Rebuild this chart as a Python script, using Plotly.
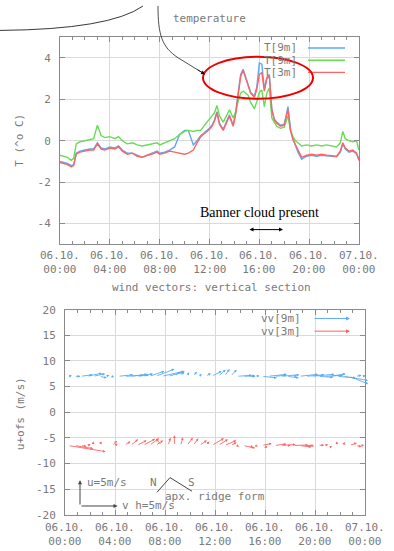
import plotly.graph_objects as go

# ---------------- data ----------------
hours = [0, 0.3, 0.6, 0.9, 1.1, 1.3, 1.6, 2.0, 2.4, 2.7, 3.0, 3.3, 3.6, 4.0, 4.4, 4.7, 5.0, 5.4, 5.8, 6.2,
         6.6, 7.0, 7.4, 7.8, 8.0, 8.4, 8.8, 9.2, 9.6, 10.0, 10.3, 10.7, 11.0, 11.3, 11.6, 11.9, 12.2, 12.4,
         12.6, 12.8, 13.1, 13.4, 13.6, 13.9, 14.1, 14.3, 14.5, 14.7, 14.9, 15.1, 15.3, 15.6, 15.8, 16.0,
         16.2, 16.4, 16.6, 16.8, 17.0, 17.2, 17.4, 17.7, 18.0, 18.3, 18.5, 18.7, 18.9, 19.1, 19.4, 19.8,
         20.2, 20.6, 21.0, 21.4, 21.8, 22.2, 22.5, 22.7, 22.9, 23.2, 23.5, 23.8, 24.0]

t3m = [-1.05, -1.1, -1.15, -1.25, -1.2, -0.65, -0.55, -0.5, -0.45, -0.45, -0.15, -0.4, -0.45, -0.35, -0.4,
       -0.3, -0.5, -0.65, -0.6, -0.75, -0.8, -0.7, -0.65, -0.55, -0.65, -0.6, -0.5, -0.55, -0.6, -0.65,
       -0.6, -0.45, -0.1, 0.2, 0.35, 0.5, 0.7, 0.95, 1.35, 0.8, 0.5, 0.9, 1.2, 0.7, 1.3, 2.2, 3.1, 3.4,
       3.0, 2.7, 2.3, 2.1, 2.5, 3.2, 3.3, 2.4, 3.0, 3.15, 1.5, 1.0, 0.85, 0.7, 0.75, 1.5, 0.5, 0.05,
       -0.2, -0.5, -0.8, -0.7, -0.65, -0.7, -0.65, -0.7, -0.72, -0.75, -0.5, -0.1, -0.35, -0.5, -0.45,
       -0.6, -0.95]

t9m_blue = [-1.0, -1.05, -1.1, -1.2, -1.15, -0.6, -0.5, -0.45, -0.4, -0.4, -0.1, -0.35, -0.4, -0.3,
            -0.35, -0.25, -0.45, -0.6, -0.6, -0.7, -0.8, -0.7, -0.6, -0.5, -0.6, -0.55, -0.45, -0.3, 0.3,
            0.5, 0.5, -0.2, 0.0, 0.25, 0.4, 0.55, 0.75, 1.0, 1.4, 0.85, 0.55, 0.95, 1.25, 0.75, 1.35, 2.3,
            3.2, 3.45, 3.05, 2.75, 2.35, 2.15, 2.6, 3.75, 3.7, 2.5, 3.05, 3.2, 1.55, 1.05, 0.9, 0.75, 0.8,
            1.65, 0.55, 0.1, -0.2, -0.55, -0.9, -0.75, -0.7, -0.75, -0.7, -0.72, -0.75, -0.78, -0.55,
            -0.15, -0.4, -0.55, -0.5, -0.62, -0.9]

t9m_green = [-0.7, -0.75, -0.8, -0.95, -0.85, -0.15, -0.05, 0.0, 0.05, 0.1, 0.75, 0.25, 0.15, 0.2, 0.1,
             0.2, 0.0, -0.15, -0.1, -0.2, -0.25, -0.2, -0.15, -0.1, -0.2, -0.1, 0.0, 0.1, 0.3, 0.45, 0.5,
             0.45, 0.5, 0.5, 0.75, 0.95, 1.2, 1.35, 1.7, 1.2, 0.9, 1.25, 1.5, 1.1, 1.4, 1.9, 2.3, 2.4, 2.3,
             2.2, 1.85, 1.55, 1.9, 2.35, 2.45, 1.65, 2.3, 2.55, 1.1, 0.9, 0.7, 0.6, 0.65, 1.2, 0.5, 0.2,
             0.0, -0.1, -0.25, -0.2, -0.25, -0.2, -0.25, -0.2, -0.25, -0.3, -0.1, 0.45, 0.1, 0.0, -0.05,
             0.0, -0.45]

temp_labels = ["T[9m]", "T[9m]", "T[3m]"]

# wind vectors (horizontal component vh, vertical component u), m/s
vec_hours = [0.25, 0.75, 1.25, 1.75, 2.25, 2.75, 3.25, 3.75, 4.25, 4.75, 5.25, 5.75, 6.25, 6.75, 7.25,
             7.75, 8.25, 8.75, 9.25, 9.75, 10.25, 10.75, 11.25, 11.75, 12.25, 12.75, 13.25, 13.75, 14.25,
             14.75, 15.25, 15.75, 16.25, 16.75, 17.25, 17.75, 18.25, 18.75, 19.25, 19.75, 20.25, 20.75,
             21.25, 21.75, 22.25, 22.75, 23.25, 23.75]
vh_9m = [0.5, 0.8, 1.6, 2.0, 1.6, 1.0, 0.5, 0.3, 2.0, 2.5, 2.2, 1.6, 1.3, 2.0, 2.5, 3.0, 2.0, 0.8, 0.5,
         0.3, 0.5, 0.3, 0.7, 1.3, 1.0, 0.7, 0.8, 2.0, 1.6, 0.8, 0.5, 2.0, 2.5, 1.6, 2.5, 1.6, 0.5, 2.5,
         2.5, 3.0, 2.0, 2.5, 2.0, 2.5, 3.3, 2.5, 0.8, 0.5]
u_9m = [0.1, 0.0, 0.3, 0.6, 0.5, -0.3, 0.2, -0.2, 0.3, 0.2, 0.4, 0.3, 0.5, 1.0, 1.4, 1.0, 0.8, 0.9, 1.0,
        0.8, 0.9, 0.5, 0.6, 1.0, 1.3, 1.4, 1.3, 0.2, 0.1, 0.0, 0.1, -0.3, 0.4, 0.2, 0.3, -0.3, 0.1, 0.4,
        0.3, 0.4, -0.2, 0.2, 0.5, -0.3, -0.8, -1.5, 0.2, 0.1]
vh_3m = [5.0, 2.5, 0.8, 0.5, 0.0, 0.3, 0.0, 0.7, -0.5, 0.8, 1.0, 1.3, 1.6, 1.3, 1.0, -0.8, 0.3, 0.0, 0.3,
         0.8, 0.7, 1.0, 0.5, 1.6, 1.3, 1.6, 0.8, 0.3, 1.6, 0.5, 0.3, 1.3, -0.5, 1.6, 2.0, 0.5, 2.0, 1.6,
         1.0, 0.3, 0.8, 0.5, 0.0, 0.0, 0.2, 1.0, 0.8, 0.3]
u_3m = [-1.2, -0.6, -0.2, 0.2, 0.8, 0.8, 0.1, 0.9, 0.3, 0.8, 1.2, 1.0, 1.3, 1.4, 1.0, 1.3, 1.5, 2.0, 1.6,
        1.5, 1.4, 1.0, 0.8, 1.4, 1.2, 1.0, 0.6, -0.2, -0.5, -0.4, -0.2, 0.4, -0.5, 0.3, 0.2, 0.0, 0.1,
        -0.3, 0.0, -0.2, 0.1, 0.2, -0.6, 0.8, 0.7, 0.5, -0.2, 0.1]
ofs_9m = 7.0
ofs_3m = -6.5
wind_labels = ["vv[9m]", "vv[3m]"]
scale_ms = 5.0          # reference arrow length, m/s
hours_per_ms = 0.6      # horizontal scale of the vectors

xtick_hours = [0, 4, 8, 12, 16, 20, 24]
xtick_dates = ["06.10.", "06.10.", "06.10.", "06.10.", "06.10.", "06.10.", "07.10."]
xtick_times = ["00:00", "04:00", "08:00", "12:00", "16:00", "20:00", "00:00"]
ytick_temp = [-4, -2, 0, 2, 4]
ytick_wind = [-20, -15, -10, -5, 0, 5, 10, 15, 20]

# ---------------- styling ----------------
W, H = 394, 551
def fx(x):
    return x / W
def fy(y):
    return 1 - y / H

MONO = "DejaVu Sans Mono"
FS = 11
TXT = "#7a7a7a"
FRAME = "#8a8a8a"
GRID = "#dadada"
BLUE = "#5aaaf5"
GREEN = "#66dd55"
RED = "#ff6464"

fig = go.Figure()
for ys, col in [(t9m_blue, BLUE), (t9m_green, GREEN), (t3m, RED)]:
    fig.add_trace(go.Scatter(x=hours, y=ys, mode="lines", line=dict(color=col, width=1.4),
                             xaxis="x", yaxis="y", showlegend=False, hoverinfo="skip"))

# vector base points (invisible trace to anchor second subplot)
fig.add_trace(go.Scatter(x=vec_hours, y=[ofs_9m] * len(vec_hours), mode="markers",
                         marker=dict(size=1, color=BLUE, opacity=0), xaxis="x2", yaxis="y2",
                         showlegend=False, hoverinfo="skip"))

annotations = []
shapes = []

def vec_arrows(vh, u, ofs, col):
    for t, a, b in zip(vec_hours, vh, u):
        annotations.append(dict(x=t + a * hours_per_ms, y=ofs + b, ax=t, ay=ofs, xref="x2", yref="y2",
                                axref="x2", ayref="y2", showarrow=True, arrowhead=2, arrowsize=0.6,
                                arrowwidth=0.9, arrowcolor=col, text="", standoff=0))

vec_arrows(vh_9m, u_9m, ofs_9m, BLUE)
vec_arrows(vh_3m, u_3m, ofs_3m, RED)

axis_common = dict(showline=True, linecolor=FRAME, linewidth=1, mirror="ticks", ticks="inside",
                   ticklen=5, tickcolor=FRAME, showgrid=True, gridcolor=GRID, gridwidth=1, zeroline=False,
                   tickfont=dict(family=MONO, size=FS, color=TXT))

x_common = dict(axis_common, range=[0, 24], tickvals=xtick_hours, showticklabels=False,
                minor=dict(dtick=1, ticks="inside", ticklen=3, tickcolor=FRAME, showgrid=False))

fig.update_layout(
    width=W, height=H, margin=dict(l=0, r=0, t=0, b=0), paper_bgcolor="white", plot_bgcolor="white",
    showlegend=False,
    xaxis=dict(x_common, domain=[fx(60), fx(359)], anchor="y"),
    yaxis=dict(axis_common, domain=[fy(244), fy(32)], anchor="x", range=[-5, 5], tickvals=ytick_temp,
               ticktext=[str(v) for v in ytick_temp], ticklabelstandoff=6),
    xaxis2=dict(x_common, domain=[fx(65), fx(365)], anchor="y2"),
    yaxis2=dict(axis_common, domain=[fy(521), fy(311)], anchor="x2", range=[-20, 20], tickvals=ytick_wind,
                ticktext=[str(v) for v in ytick_wind], ticklabelstandoff=6),
)

def text(x, y, s, size=FS, xanchor="center", font=MONO, color=TXT, angle=0):
    annotations.append(dict(x=fx(x), y=fy(y), xref="paper", yref="paper", text=s, showarrow=False,
                            xanchor=xanchor, yanchor="middle", textangle=angle,
                            font=dict(family=font, size=size, color=color)))

# x tick labels (two lines each)
for xr, yc in [("x", 262.5), ("x2", 541.5)]:
    for h, d, tm in zip(xtick_hours, xtick_dates, xtick_times):
        annotations.append(dict(x=h, y=fy(yc), xref=xr, yref="paper", text=f"{d}<br>{tm}",
                                showarrow=False, xanchor="center", yanchor="middle",
                                font=dict(family=MONO, size=FS, color=TXT)))

# titles
text(209, 13, "temperature")
text(212, 288, "wind vectors: vertical section")
text(20, 138, "T (^o C)", angle=-90)
text(20, 418, "u+ofs (m/s)", angle=-90)

# temperature legend
for i, (lab, col) in enumerate(zip(temp_labels, [BLUE, GREEN, RED])):
    yy = 43 + i * 12.5
    text(299, yy, lab, xanchor="right")
    shapes.append(dict(type="line", xref="paper", yref="paper", x0=fx(308), x1=fx(345), y0=fy(yy),
                       y1=fy(yy), line=dict(color=col, width=1.4)))

# wind legend
for i, (lab, col) in enumerate(zip(wind_labels, [BLUE, RED])):
    yy = 320 + i * 13
    text(303, yy, lab, xanchor="right")
    annotations.append(dict(x=fx(350), y=fy(yy), xref="paper", yref="paper", ax=-37, ay=0, text="",
                            showarrow=True, arrowhead=2, arrowsize=0.8, arrowwidth=1, arrowcolor=col))

# reference arrows in the wind panel
DARK = "#444444"
base_t, base_u = 1.2, -18.3
annotations.append(dict(x=base_t, y=base_u + scale_ms, ax=base_t, ay=base_u, xref="x2", yref="y2",
                        axref="x2", ayref="y2", text="", showarrow=True, arrowhead=2, arrowsize=0.8,
                        arrowwidth=1, arrowcolor=DARK))
annotations.append(dict(x=base_t + scale_ms * hours_per_ms, y=base_u, ax=base_t, ay=base_u, xref="x2",
                        yref="y2", axref="x2", ayref="y2", text="", showarrow=True, arrowhead=2,
                        arrowsize=0.8, arrowwidth=1, arrowcolor=DARK))
text(85, 488, "u=5m/s", xanchor="left")
text(120, 512, "v h=5m/s", xanchor="left")
text(153, 488, "N")
text(191, 488, "S")
text(163, 502, "apx. ridge form", xanchor="left")
shapes.append(dict(type="path", xref="paper", yref="paper",
                   path=f"M {fx(157)},{fy(498)} L {fx(170)},{fy(483)} L {fx(192)},{fy(497)}",
                   line=dict(color=DARK, width=1)))

# ---------------- overlay drawings ----------------
shapes.append(dict(type="path", xref="paper", yref="paper",
                   path=f"M {fx(0)},{fy(25)} Q {fx(110)},{fy(24)} {fx(143)},{fy(0)}",
                   line=dict(color="#222", width=0.9)))
shapes.append(dict(type="path", xref="paper", yref="paper",
                   path=f"M {fx(158)},{fy(0)} C {fx(158)},{fy(30)} {fx(162)},{fy(42)} {fx(178)},{fy(53)} "
                        f"L {fx(205)},{fy(70)}",
                   line=dict(color="#222", width=0.8)))
annotations.append(dict(x=fx(205), y=fy(70), xref="paper", yref="paper", ax=-9, ay=-5.7, text="",
                        showarrow=True, arrowhead=2, arrowsize=1, arrowwidth=0.8, arrowcolor="#111"))
shapes.append(dict(type="circle", xref="paper", yref="paper", x0=fx(203), x1=fx(313), y0=fy(95),
                   y1=fy(52), line=dict(color="#ee0000", width=2)))

text(259, 212, "Banner cloud present", size=14, font="Liberation Serif", color="#000")
annotations.append(dict(x=fx(283), y=fy(229), xref="paper", yref="paper", ax=-35, ay=0, text="",
                        showarrow=True, arrowhead=2, arrowside="end+start", arrowsize=0.8,
                        arrowwidth=1, arrowcolor="#000"))

fig.update_layout(annotations=annotations, shapes=shapes)
fig.write_html("out.html", config={"displayModeBar": False},
               post_script="document.body.style.margin='0';")
